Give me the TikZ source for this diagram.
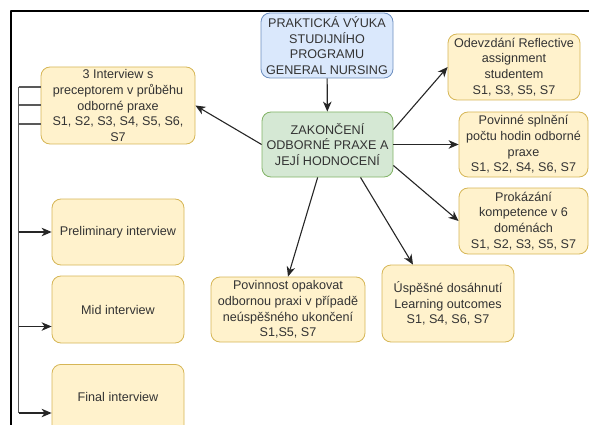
\documentclass[tikz,border=0pt]{standalone}
\usepackage{fontspec}
\setmainfont{Liberation Sans}
\usepackage{xcolor}
\usetikzlibrary{calc}
\usetikzlibrary{arrows.meta, positioning}
\definecolor{notefill}{HTML}{FFF2CC}
\definecolor{notedraw}{HTML}{D6B656}
\definecolor{headfill}{HTML}{DAE8FC}
\definecolor{headdraw}{HTML}{6C8EBF}
\definecolor{endfill}{HTML}{D5E8D4}
\definecolor{enddraw}{HTML}{82B366}
\definecolor{textgray}{HTML}{333333}

\begin{document}
\begin{tikzpicture}[x=1pt, y=-1pt, line join=round,
    boxtext/.style={align=center, text=textgray, inner sep=0pt,
        font=\fontsize{12.6}{15.7}\selectfont},
    box/.style={boxtext, draw=notedraw, fill=notefill, rounded corners=9pt, line width=0.8pt},
    headbox/.style={box, draw=headdraw, fill=headfill},
    endbox/.style={box, draw=enddraw, fill=endfill},
    arr/.style={-{Stealth[length=10pt, width=8.5pt, inset=3pt]}, line width=1.1pt, black!85},
    link/.style={line width=1.1pt, black!65}]
            % page and frame
            \useasboundingbox (0,0) rectangle (589,425);
            \clip (0,0) rectangle (589,425);
            \draw[line width=1.2pt] (589,11) -- (11,11) -- (11,430);

            % centre column
            \node[headbox, minimum width=132pt, minimum height=65pt] (top) at (327,45.5)
                {PRAKTICKÁ VÝUKA\\STUDIJNÍHO\\PROGRAMU\\GENERAL NURSING};
            \node[endbox, minimum width=131pt, minimum height=65pt] (zak) at (327.5,144.5)
                {ZAKONČENÍ\\ODBORNÉ PRAXE A\\JEJÍ HODNOCENÍ};

            % right column
            \node[box, minimum width=132pt, minimum height=66pt] (odev) at (514,67)
                {Odevzdání Reflective\\assignment\\studentem\\S1, S3, S5, S7};
            \node[box, minimum width=129pt, minimum height=65pt] (hodiny) at (523.5,144.5)
                {Povinné splnění\\počtu hodin odborné\\praxe\\S1, S2, S4, S6, S7};
            \node[box, minimum width=129pt, minimum height=66pt] (kompet) at (523.5,221)
                {Prokázání\\kompetence v 6\\doménách\\S1, S2, S3, S5, S7};

            % bottom row
            \node[box, minimum width=154pt, minimum height=65pt] (opak) at (288,309.5)
                {Povinnost opakovat\\odbornou praxi v případě\\neúspěšného ukončení\\S1,S5, S7};
            \node[box, minimum width=132pt, minimum height=77pt] (outcomes) at (448,303.5)
                {Úspěšné dosáhnutí\\Learning outcomes\\S1, S4, S6, S7};

            % left column
            \node[box, minimum width=154pt, minimum height=77pt] (interview) at (118,105.5)
                {3 Interview s\\preceptorem v průběhu\\odborné praxe\\S1, S2, S3, S4, S5, S6,\\S7};
            \node[box, minimum width=132pt, minimum height=66pt] (prelim) at (118,232)
                {Preliminary interview};
            \node[box, minimum width=132pt, minimum height=67pt] (mid) at (118,309.5)
                {Mid interview};
            % last box runs off the page
            \node[box, minimum width=132pt, minimum height=90pt, anchor=north] (final) at (118,364) {};
            \node[boxtext] (finallabel) at ($(final.north)+(0,33)$) {Final interview};

            % arrows out of the centre
            \draw[arr] (top) -- (zak);
            \draw[arr] (zak.west) -- (interview.east);
            \draw[arr] ($(zak.east)+(0,-15)$) -- (odev.west);
            \draw[arr] (zak.east) -- (hodiny.west);
            \draw[arr] ($(zak.east)+(0,21)$) -- (kompet.west);
            \draw[arr] (zak) -- (opak.north);
            \draw[arr] ($(zak.south)+(33,0)$) -- ($(outcomes.north)+(-35,0)$);

            % bracket on the left
            \coordinate (bt) at (18.5,87);
            \coordinate (midin) at ($(mid.west)+(0,17)$);
            \coordinate (finalin) at ($(final.north west)+(0,49)$);
            \draw[link] (bt) -- (bt |- finalin);
            \foreach \dy in {0,18,37}
                \draw[link] ($(bt)+(0,\dy)$) -- ($(bt -| interview.west)+(0,\dy)$);
            \draw[arr] (bt |- prelim.west) -- (prelim.west);
            \draw[arr] (bt |- midin) -- (midin);
            \draw[arr] (bt |- finalin) -- (finalin);
\end{tikzpicture}
\end{document}
